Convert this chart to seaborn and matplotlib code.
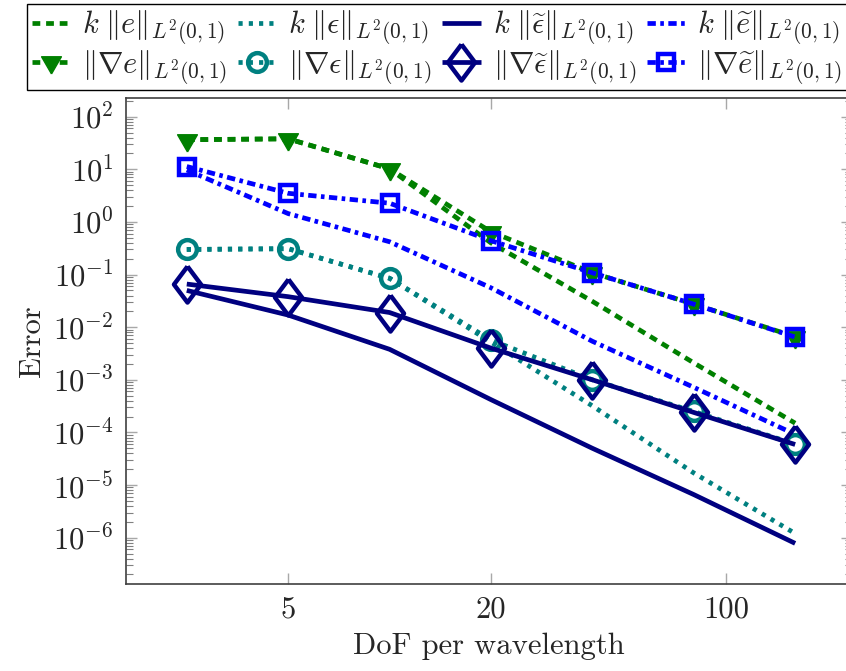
import matplotlib
matplotlib.use("Agg")
import matplotlib.pyplot as plt
from matplotlib.ticker import FixedLocator, FixedFormatter, NullLocator, LogLocator
import seaborn as sns

# Degrees of freedom per wavelength
dof = [2.5, 5, 10, 20, 40, 80, 160]

# Errors of the standard scheme
k_e = [36.5, 38.0, 10.2, 0.40, 0.031, 0.0021, 0.00015]
grad_e = [36.5, 38.0, 10.2, 0.65, 0.108, 0.0274, 0.0066]

# Errors of the eps quantity
k_eps = [0.30, 0.31, 0.085, 0.0052, 0.00032, 0.000017, 0.0000012]
grad_eps = [0.30, 0.31, 0.085, 0.0057, 0.0010, 0.00025, 0.000060]

# Errors of the tilde-eps quantity
k_teps = [0.050, 0.017, 0.0038, 0.00042, 0.000050, 0.0000066, 0.00000078]
grad_teps = [0.066, 0.038, 0.019, 0.0040, 0.0010, 0.00024, 0.000059]

# Errors of the tilde-e quantity
k_te = [9.7, 1.44, 0.42, 0.056, 0.0054, 0.00072, 0.000092]
grad_te = [11.3, 3.5, 2.27, 0.44, 0.108, 0.0274, 0.0065]

GREEN = "#008000"
TEAL = "#008080"
NAVY = "#000080"
BLUE = "#0000ff"

sns.set_style("ticks")
plt.rcParams.update({
    "font.family": "serif",
    "font.serif": ["cmr10"],
    "mathtext.fontset": "cm",
    "axes.formatter.use_mathtext": True,
    "lines.scale_dashes": False,
})

DASHED = (0, (5.6, 4.2))
DOTTED = (0, (3.0, 4.4))
DASHDOT = (0, (6.0, 3.2, 2.6, 3.2))
LW = 3.4

tri_down = [(0, -1), (0.866, 0.5), (-0.866, 0.5), (0, -1)]
diamond = [(0, 1), (0.75, 0), (0, -1), (-0.75, 0), (0, 1)]

series = [
    dict(key="ke", y=k_e, color=GREEN, ls=DASHED,
         label=r"$k\;\|e\|_{L^2(0,1)}$"),
    dict(key="keps", y=k_eps, color=TEAL, ls=DOTTED,
         label=r"$k\;\|\epsilon\|_{L^2(0,1)}$"),
    dict(key="kteps", y=k_teps, color=NAVY, ls="-",
         label=r"$k\;\|\widetilde{\epsilon}\|_{L^2(0,1)}$"),
    dict(key="kte", y=k_te, color=BLUE, ls=DASHDOT,
         label=r"$k\;\|\widetilde{e}\|_{L^2(0,1)}$"),
    dict(key="ge", y=grad_e, color=GREEN, ls=DASHED,
         marker=tri_down, ms=16.5, mfc=GREEN, mew=1.0,
         label=r"$\|\nabla e\|_{L^2(0,1)}$"),
    dict(key="geps", y=grad_eps, color=TEAL, ls=DOTTED,
         marker="o", ms=13.5, mfc="none", mew=3.2,
         label=r"$\|\nabla \epsilon\|_{L^2(0,1)}$"),
    dict(key="gteps", y=grad_teps, color=NAVY, ls="-",
         marker=diamond, ms=26, mfc="none", mew=3.2,
         label=r"$\|\nabla \widetilde{\epsilon}\|_{L^2(0,1)}$"),
    dict(key="gte", y=grad_te, color=BLUE, ls=DASHDOT,
         marker="s", ms=11.5, mfc="none", mew=3.2,
         label=r"$\|\nabla \widetilde{e}\|_{L^2(0,1)}$"),
]

fig = plt.figure(figsize=(8.46, 6.71), dpi=100)
ax = fig.add_axes([126 / 846, 87 / 671, (852 - 126) / 846, (584 - 98) / 671])

handles = {}
for s in series:
    n_before = len(ax.get_lines())
    kw = dict(color=s["color"], linestyle=s["ls"], linewidth=LW)
    if "marker" in s:
        kw.update(marker=s["marker"], markersize=s["ms"],
                  markerfacecolor=s["mfc"], markeredgecolor=s["color"],
                  markeredgewidth=s["mew"])
    else:
        kw.update(marker=None)
    sns.lineplot(x=dof, y=s["y"], ax=ax, legend=False, **kw)
    line = ax.get_lines()[n_before]
    line.set_solid_capstyle("butt")
    line.set_dash_capstyle("butt")
    handles[s["key"]] = (line, s["label"])

ax.set_xscale("log")
ax.set_yscale("log")
ax.set_xlim(1.65, 236)
ax.set_ylim(10 ** -6.88, 10 ** 2.355)

ax.xaxis.set_major_locator(FixedLocator([5, 20, 100]))
ax.xaxis.set_major_formatter(FixedFormatter(["5", "20", "100"]))
ax.xaxis.set_minor_locator(NullLocator())
ax.yaxis.set_major_locator(LogLocator(base=10, numticks=20))
ax.yaxis.set_minor_locator(LogLocator(base=10, subs=range(2, 10), numticks=20))

ax.tick_params(which="both", direction="in", top=True, right=True)
ax.tick_params(which="major", length=8, width=1.0, color="#a8a8a8",
               labelsize=22, pad=9)
ax.tick_params(which="minor", length=5, width=0.8, color="#808080")
for sp in ax.spines.values():
    sp.set_color("#404040")
    sp.set_linewidth(1.2)

ax.set_xlabel("DoF per wavelength", fontsize=22, labelpad=6)
ax.set_ylabel("Error", fontsize=22, labelpad=5)

order = ["ke", "ge", "keps", "geps", "kteps", "gteps", "kte", "gte"]
leg = ax.legend([handles[k][0] for k in order], [handles[k][1] for k in order],
                ncol=4, loc="upper left",
                bbox_to_anchor=(27 / 846, 1 - 4 / 671),
                bbox_transform=fig.transFigure,
                fontsize=22, numpoints=1, frameon=True, fancybox=False,
                edgecolor="black", framealpha=1.0,
                handlelength=1.25, handletextpad=0.4, columnspacing=0.35,
                labelspacing=0.05, borderpad=0.15, borderaxespad=0)
leg.get_frame().set_linewidth(1.0)

fig.savefig("out.png", dpi=100)
